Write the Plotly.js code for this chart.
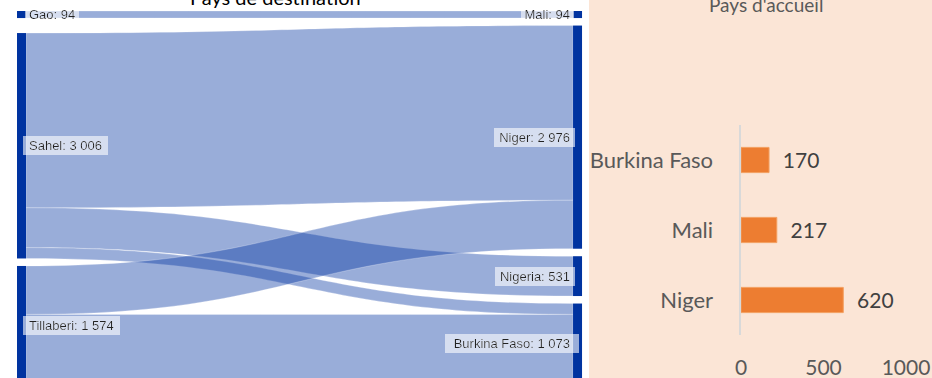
<!DOCTYPE html>
<html><head><meta charset="utf-8">
<script src="https://cdn.plot.ly/plotly-3.0.1.min.js"></script>
<style>
html,body{margin:0;padding:0;overflow:hidden;background:#fff;width:932px;height:378px;}
#chart{position:absolute;left:0;top:-20px;width:932px;height:420px;}
.sankey .node-label{filter:url(#lblbg);text-shadow:none !important;}
</style></head><body>
<svg width="0" height="0" style="position:absolute">
<defs>
<filter id="lblbg" x="-0.07" y="-0.1" width="1.14" height="1.2">
<feFlood flood-color="#ffffff" flood-opacity="0.6" result="bg"/>
<feMerge><feMergeNode in="bg"/><feMergeNode in="SourceGraphic"/></feMerge>
</filter>
</defs></svg>
<div id="chart"></div>
<script>
// Sankey data
const nodeNames = ['Gao', 'Sahel', 'Tillaberi', 'Mali', 'Niger', 'Nigeria', 'Burkina Faso'];
const linkSource = ['Gao', 'Sahel', 'Sahel', 'Sahel', 'Tillaberi', 'Tillaberi'];
const linkTarget = ['Mali', 'Niger', 'Nigeria', 'Burkina Faso', 'Niger', 'Burkina Faso'];
const linkValue = [94, 2330, 531, 145, 646, 928];

// Bar chart data
const hostCountries = ['Burkina Faso', 'Mali', 'Niger'];
const hostValues = [170, 217, 620];
const hostTicks = [0, 500, 1000];

function fmt(n) { return String(n).replace(/\B(?=(\d{3})+(?!\d))/g, ' '); }

const srcIdx = linkSource.map(s => nodeNames.indexOf(s));
const tgtIdx = linkTarget.map(t => nodeNames.indexOf(t));
const nodeLabels = nodeNames.map((name, i) => {
  let outSum = 0, inSum = 0;
  srcIdx.forEach((s, k) => { if (s === i) outSum += linkValue[k]; });
  tgtIdx.forEach((t, k) => { if (t === i) inSum += linkValue[k]; });
  return name + ': ' + fmt(Math.max(outSum, inSum));
});

const sankey = {
  type: 'sankey',
  orientation: 'h',
  arrangement: 'snap',
  domain: {x: [0.01824, 0.6245], y: [0.038095, 0.92619]},
  node: {
    label: nodeLabels,
    color: '#0033A0',
    line: {width: 0},
    pad: 7.5,
    thickness: 9,
    hoverinfo: 'none'
  },
  link: {
    source: srcIdx,
    target: tgtIdx,
    value: linkValue,
    color: 'rgba(0,51,160,0.4)',
    line: {color: 'rgba(255,255,255,0.5)', width: 0.5},
    hoverinfo: 'none'
  },
  textfont: {family: 'Liberation Sans, Arial, sans-serif', size: 13, color: '#222'}
};

const bars = {
  type: 'bar',
  orientation: 'h',
  y: hostCountries,
  x: hostValues,
  width: 0.36,
  marker: {color: '#ED7D31', line: {color: '#F3A062', width: 1}},
  texttemplate: '\u00a0\u00a0%{x}',
  textposition: 'outside',
  cliponaxis: false,
  textfont: {family: 'Lato, sans-serif', size: 21, color: '#404040'},
  hoverinfo: 'skip'
};

const layout = {
  width: 932, height: 420,
  margin: {l: 0, r: 0, t: 0, b: 0},
  paper_bgcolor: '#ffffff',
  plot_bgcolor: 'rgba(0,0,0,0)',
  showlegend: false,
  shapes: [{type: 'rect', xref: 'paper', yref: 'paper', x0: 0.632, x1: 1, y0: 0, y1: 1,
            fillcolor: '#FBE5D6', line: {width: 0}, layer: 'below'}],
  xaxis: {
    domain: [0.79506, 0.9721], range: [0, 1000], tickvals: hostTicks,
    showgrid: false, zeroline: false, showline: false, ticks: '',
    ticklabelstandoff: 18,
    tickfont: {family: 'Lato, sans-serif', size: 21, color: '#595959'},
    fixedrange: true
  },
  yaxis: {
    domain: [0.154762, 0.654762], type: 'category', autorange: 'reversed',
    showline: true, linecolor: '#D9D9D9', linewidth: 1.5,
    showgrid: false, zeroline: false, ticks: '',
    ticklabelstandoff: 22,
    tickfont: {family: 'Lato, sans-serif', size: 22, color: '#595959'},
    fixedrange: true
  },
  annotations: [
    {text: 'Pays de destination', xref: 'paper', yref: 'paper', x: 0.2951, y: 0.9607,
     xanchor: 'center', yanchor: 'middle', showarrow: false,
     font: {family: 'Lato, sans-serif', size: 20, color: '#000000'}},
    {text: "Pays d'accueil", xref: 'paper', yref: 'paper', x: 0.8219, y: 0.9417,
     xanchor: 'center', yanchor: 'middle', showarrow: false,
     font: {family: 'Lato, sans-serif', size: 19, color: '#595959'}}
  ]
};

Plotly.newPlot('chart', [sankey, bars], layout, {displayModeBar: false, staticPlot: true});
</script>
</body></html>
